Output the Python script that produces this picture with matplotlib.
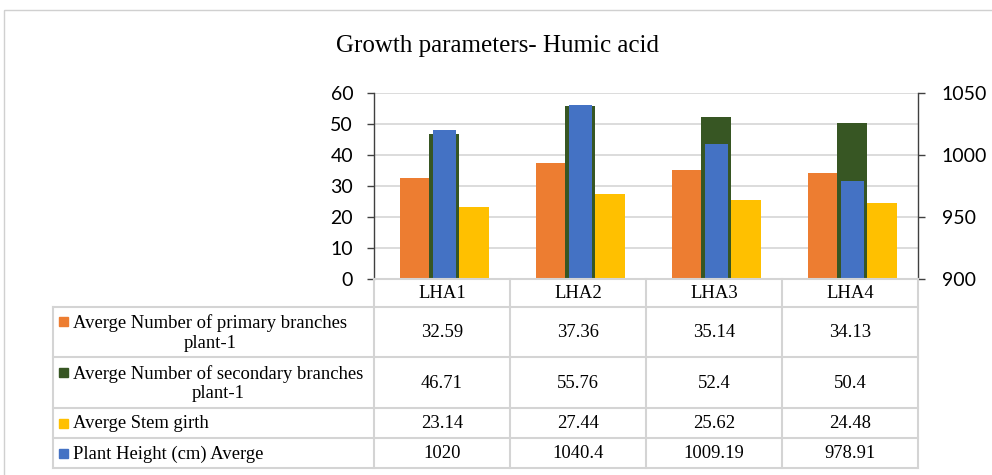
import matplotlib
matplotlib.use("Agg")
import matplotlib.pyplot as plt
from matplotlib.patches import Rectangle
import numpy as np

categories = ["LHA1", "LHA2", "LHA3", "LHA4"]
primary = [32.59, 37.36, 35.14, 34.13]
secondary = [46.71, 55.76, 52.4, 50.4]
stem = [23.14, 27.44, 25.62, 24.48]
height = [1020, 1040.4, 1009.19, 978.91]
series_names = ["Averge Number of primary branches\nplant-1",
                "Averge Number of secondary branches\nplant-1",
                "Averge Stem girth",
                "Plant Height (cm) Averge"]
title = "Growth parameters- Humic acid"

C_OR, C_GR, C_YE, C_BL = "#ED7D31", "#375623", "#FFC000", "#4472C4"
GRID = "#d9d9d9"
TBL = "#d4d4d4"

W, H = 992, 475
fig = plt.figure(figsize=(W / 100, H / 100), dpi=100)

def px(v):
    return v * 0.72

# plot area
x0, x1, y0, y1 = 374, 918, 93, 279
ax = fig.add_axes([x0 / W, 1 - y1 / H, (x1 - x0) / W, (y1 - y0) / H])
ax.set_xlim(-0.5, 3.5)
ax.set_ylim(0, 60)
ax.set_yticks(range(0, 61, 10))
ax.set_xticks([])
ax.yaxis.grid(True, color=GRID, lw=1.3)
ax.set_axisbelow(True)
for s in ["top", "bottom", "right"]:
    ax.spines[s].set_visible(False)
ax.spines["left"].set_color("#404040")
ax.spines["left"].set_linewidth(1.0)
ax.tick_params(axis="y", length=5, width=1.0, color="#404040", pad=10,
               labelsize=px(19.5), labelcolor="black")
for lab in ax.get_yticklabels():
    lab.set_family("Lato")

x = np.arange(len(categories))
bw = 0.22
ax.bar(x - 0.202, primary, bw, color=C_OR, zorder=2)
ax.bar(x + 0.015, secondary, bw, color=C_GR, zorder=2)
ax.bar(x + 0.235, stem, bw, color=C_YE, zorder=2)

ax2 = ax.twinx()
ax2.set_ylim(900, 1050)
ax2.set_yticks([900, 950, 1000, 1050])
for s in ["top", "bottom", "left"]:
    ax2.spines[s].set_visible(False)
ax2.spines["right"].set_color("#404040")
ax2.spines["right"].set_linewidth(1.0)
ax2.tick_params(axis="y", length=5, width=1.0, color="#404040", pad=12,
                labelsize=px(19.5), labelcolor="black")
for lab in ax2.get_yticklabels():
    lab.set_family("Lato")
ax2.bar(x + 0.02, height, 0.17, bottom=0, color=C_BL, zorder=3)
ax2.set_ylim(900, 1050)

# overlay for table, title, border
ov = fig.add_axes([0, 0, 1, 1])
ov.set_xlim(0, W)
ov.set_ylim(H, 0)
ov.axis("off")

ov.add_patch(Rectangle((4, 10), 1000, 480, fill=False, ec="#d0d0d0", lw=1.0))
ov.text(497, 46, title, ha="center", va="center", family="Liberation Serif",
        fontsize=px(25))

xs = [374, 510, 646, 782, 918]
ys = [279, 306.5, 357, 408, 438, 468]
lw = 1.5
ov.plot([xs[0], xs[-1]], [ys[0], ys[0]], color=TBL, lw=lw)
for yy in ys[1:]:
    ov.plot([53, xs[-1]], [yy, yy], color=TBL, lw=lw)
for xx in xs:
    ov.plot([xx, xx], [ys[0], ys[-1]], color=TBL, lw=lw)
ov.plot([53, 53], [ys[1], ys[-1]], color=TBL, lw=lw)

tfs = px(18.7)
for i, c in enumerate(categories):
    ov.text((xs[i] + xs[i + 1]) / 2, (ys[0] + ys[1]) / 2 + 1, c, ha="center",
            va="center", family="Liberation Serif", fontsize=tfs)

colors = [C_OR, C_GR, C_YE, C_BL]
data = [primary, secondary, stem, height]
for r in range(4):
    yc = (ys[r + 1] + ys[r + 2]) / 2
    two = "\n" in series_names[r]
    ov.text(73, yc + 1, series_names[r], ha="left", va="center",
            multialignment="center", family="Liberation Serif", fontsize=tfs,
            linespacing=1.22)
    ky = yc - 10 if two else yc
    ov.add_patch(Rectangle((59, ky - 4.5), 9, 9, color=colors[r]))
    for i in range(4):
        ov.text((xs[i] + xs[i + 1]) / 2, yc + 0.5, f"{data[r][i]:g}",
                ha="center", va="center", family="Liberation Serif", fontsize=tfs)

fig.savefig("out.png", dpi=100)
